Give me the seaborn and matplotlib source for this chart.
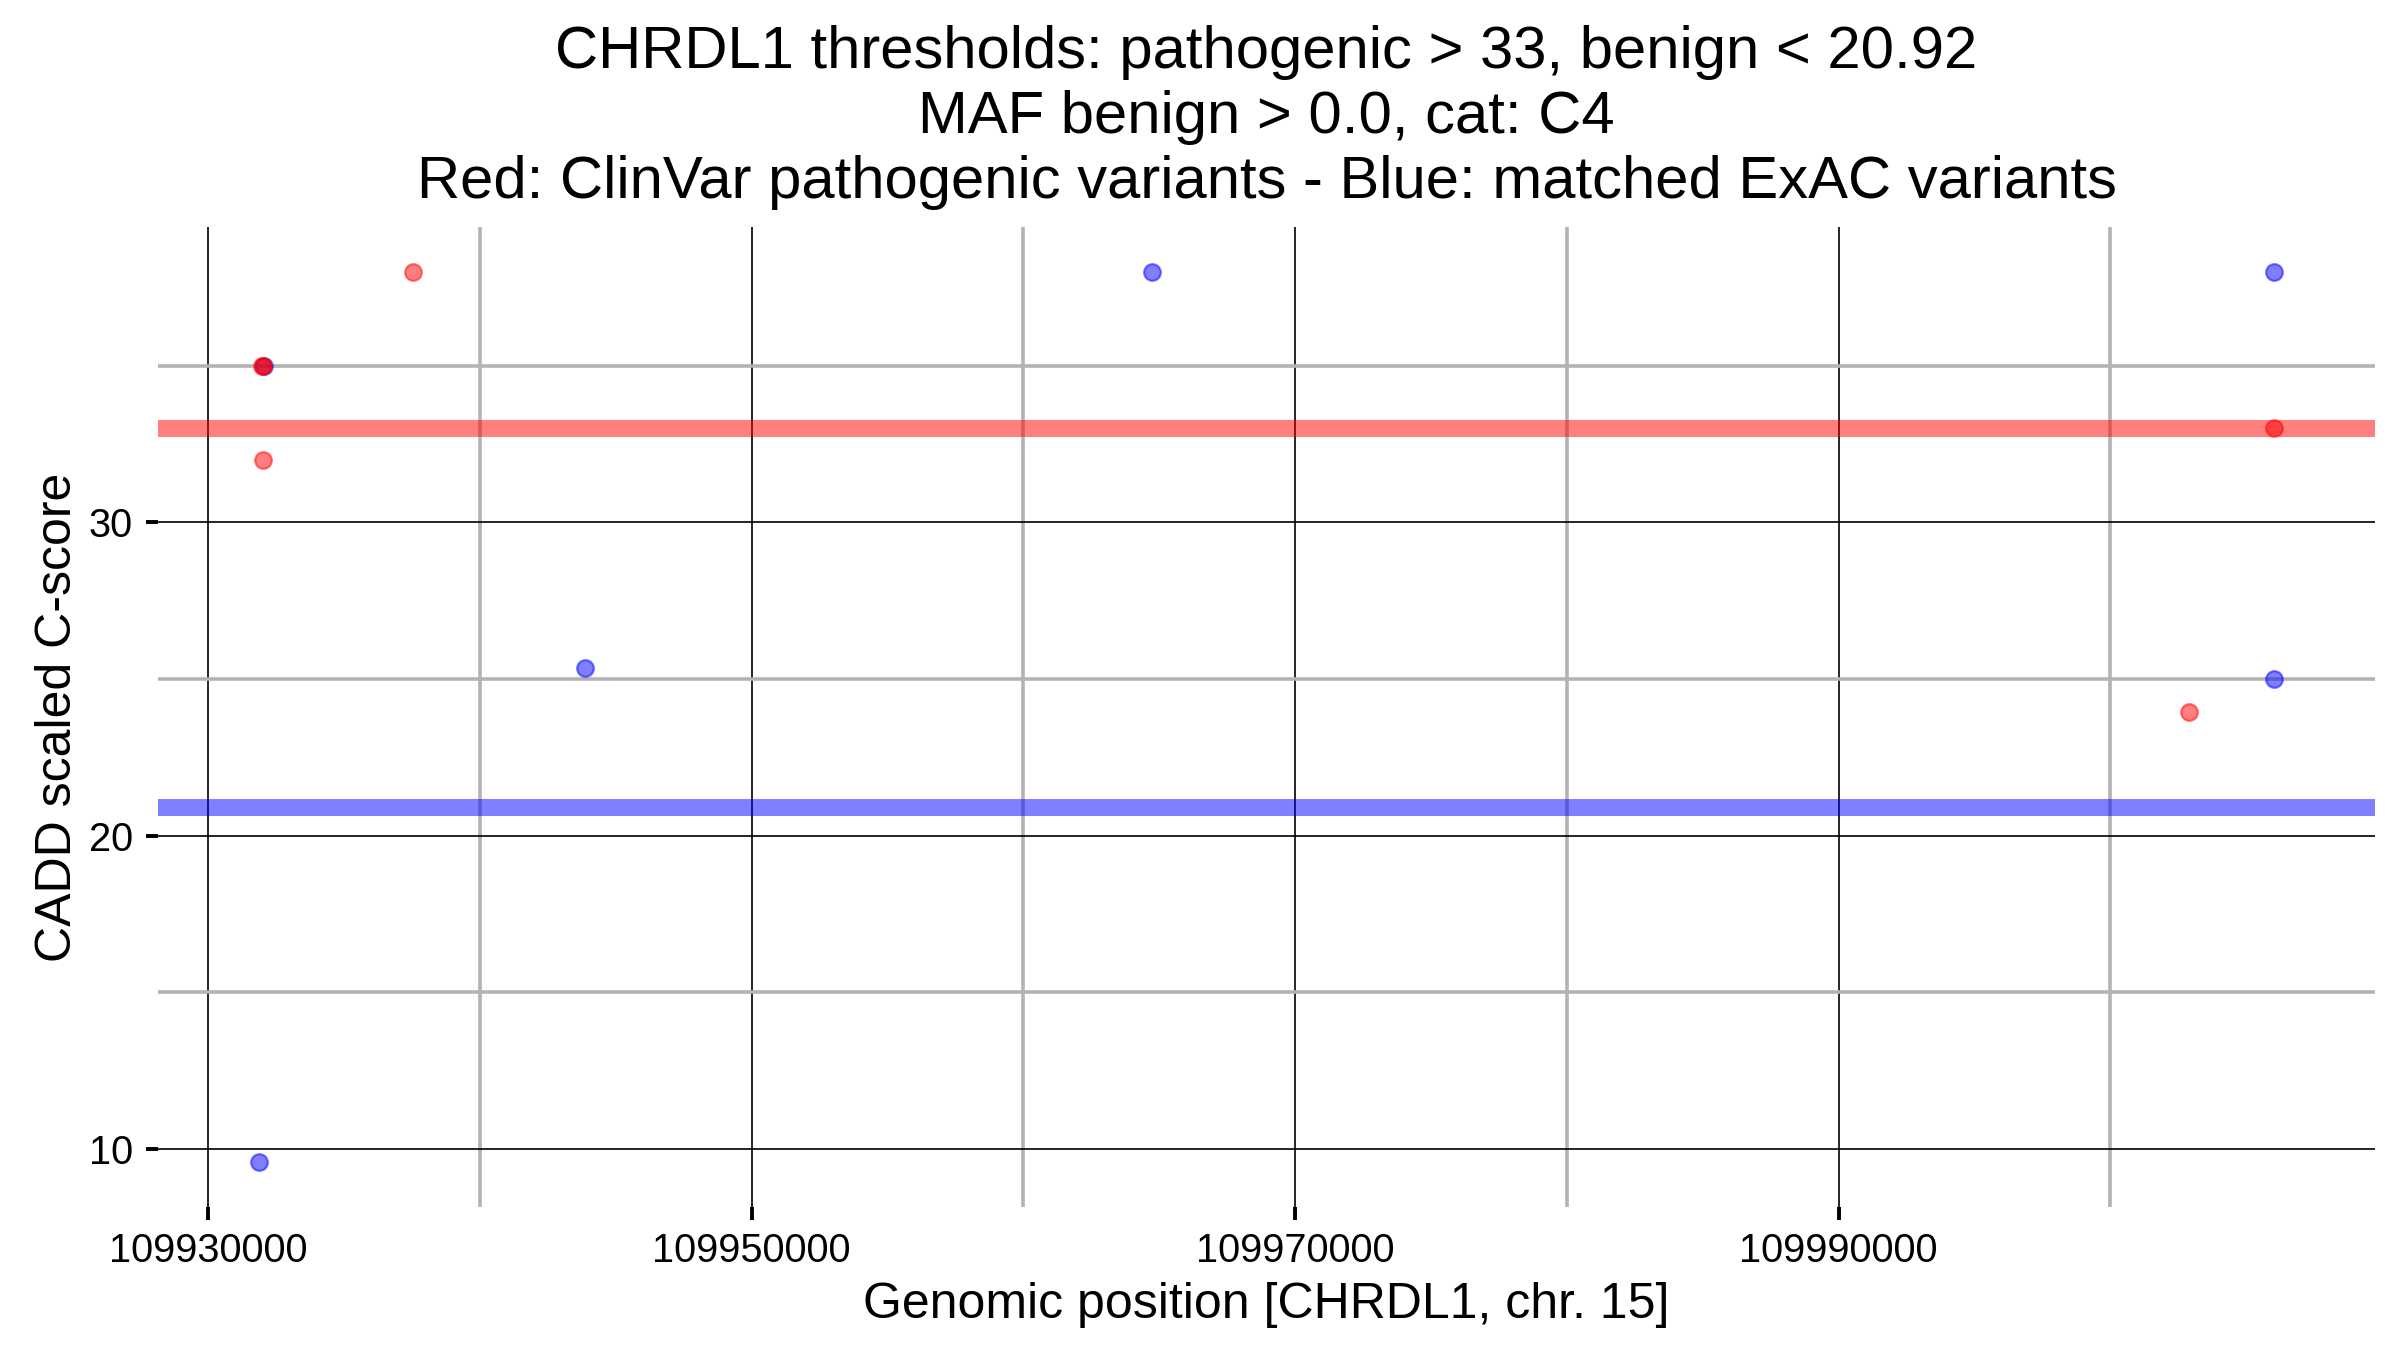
import matplotlib
matplotlib.use("Agg")
import matplotlib.pyplot as plt
import seaborn as sns
import pandas as pd
from matplotlib.ticker import FixedLocator, FixedFormatter

# ---- data ----
path_pos = [109931999, 109932000, 109932030, 109937541, 110002897, 110006025]
path_score = [35.0, 35.0, 32.0, 38.0, 23.94, 33.0]
benign_pos = [109931862, 109932060, 109943876, 109964719, 110006025, 110006025]
benign_score = [9.57, 35.0, 25.34, 38.0, 38.0, 25.0]

path_threshold = 33
benign_threshold = 20.92

x_ticks = [109930000, 109950000, 109970000, 109990000]
x_tick_labels = ["109930000", "109950000", "109970000", "109990000"]
x_minor = [109940000, 109960000, 109980000, 110000000]
y_ticks = [10, 20, 30]
y_tick_labels = ["10", "20", "30"]
y_minor = [15, 25, 35]

title = ("CHRDL1 thresholds: pathogenic > 33, benign < 20.92\n"
         "MAF benign > 0.0, cat: C4\n"
         "Red: ClinVar pathogenic variants - Blue: matched ExAC variants")
xlabel = "Genomic position [CHRDL1, chr. 15]"
ylabel = "CADD scaled C-score"

df_path = pd.DataFrame({"pos": path_pos, "score": path_score})
df_benign = pd.DataFrame({"pos": benign_pos, "score": benign_score})

# ---- style ----
sns.set_style("white")
plt.rcParams["font.family"] = ["Liberation Sans", "DejaVu Sans"]

fig = plt.figure(figsize=(12, 6.75), dpi=200)
ax = fig.add_axes([158 / 2400, 1 - 1207 / 1350, (2375 - 158) / 2400, (1207 - 227) / 1350])

ax.set_axisbelow(True)
ax.axhline(path_threshold, color="#FF0000", alpha=0.5, lw=6.1, zorder=1)
ax.axhline(benign_threshold, color="#0000FF", alpha=0.5, lw=6.1, zorder=1)

sns.scatterplot(data=df_benign, x="pos", y="score", ax=ax, color="#0000FF",
                alpha=0.5, s=36, edgecolor="#0000FF", linewidth=0.8, zorder=2)
sns.scatterplot(data=df_path, x="pos", y="score", ax=ax, color="#FF0000",
                alpha=0.5, s=36, edgecolor="#FF0000", linewidth=0.8, zorder=3)

ax.margins(x=0.05, y=0.05)

ax.xaxis.set_major_locator(FixedLocator(x_ticks))
ax.xaxis.set_major_formatter(FixedFormatter(x_tick_labels))
ax.xaxis.set_minor_locator(FixedLocator(x_minor))
ax.yaxis.set_major_locator(FixedLocator(y_ticks))
ax.yaxis.set_major_formatter(FixedFormatter(y_tick_labels))
ax.yaxis.set_minor_locator(FixedLocator(y_minor))

ax.grid(which="minor", color="#b3b3b3", lw=1.3)
ax.grid(which="major", color="black", lw=0.6)

for sp in ax.spines.values():
    sp.set_visible(False)

ax.tick_params(which="major", direction="out", length=4.5, width=1.4,
               color="black", labelsize=14.3, pad=4.5, labelcolor="black",
               bottom=True, left=True)
ax.tick_params(which="minor", length=0, bottom=False, left=False)

ax.set_xlabel(xlabel, fontsize=18.0, labelpad=4.5, color="black")
ax.set_ylabel(ylabel, fontsize=18.0, labelpad=3, color="black")
ax.set_title(title, fontsize=21.5, linespacing=1.23, pad=10.4, color="black")

fig.savefig("out.png", dpi=200)
